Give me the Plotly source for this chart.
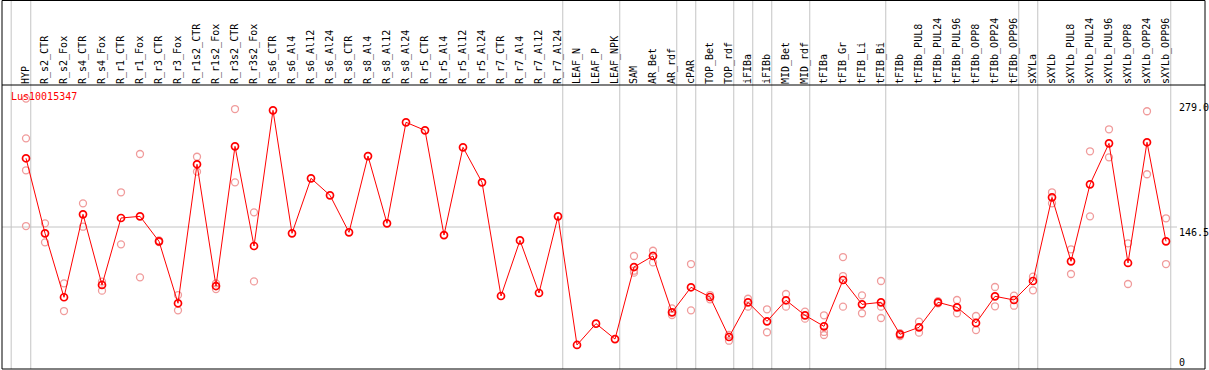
import plotly.graph_objects as go

categories = ["HYP", "R_s2_CTR", "R_s2_Fox", "R_s4_CTR", "R_s4_Fox", "R_r1_CTR", "R_r1_Fox",
              "R_r3_CTR", "R_r3_Fox", "R_r1s2_CTR", "R_r1s2_Fox", "R_r3s2_CTR", "R_r3s2_Fox",
              "R_s6_CTR", "R_s6_Al4", "R_s6_Al12", "R_s6_Al24", "R_s8_CTR", "R_s8_Al4",
              "R_s8_Al12", "R_s8_Al24", "R_r5_CTR", "R_r5_Al4", "R_r5_Al12", "R_r5_Al24",
              "R_r7_CTR", "R_r7_Al4", "R_r7_Al12", "R_r7_Al24", "LEAF_N", "LEAF_P", "LEAF_NPK",
              "SAM", "AR_Bet", "AR_rdf", "cPAR", "TOP_Bet", "TOP_rdf", "iFIBa", "iFIBb",
              "MID_Bet", "MID_rdf", "tFIBa", "tFIB_Gr", "tFIB_Li", "tFIB_Bi", "tFIBb",
              "tFIBb_PUL8", "tFIBb_PUL24", "tFIBb_PUL96", "tFIBb_OPP8", "tFIBb_OPP24",
              "tFIBb_OPP96", "sXYLa", "sXYLb", "sXYLb_PUL8", "sXYLb_PUL24", "sXYLb_PUL96",
              "sXYLb_OPP8", "sXYLb_OPP24", "sXYLb_OPP96"]

means = [217.4, 140.0, 74.0, 159.6, 86.7, 155.8, 157.5, 131.7, 67.8, 211.2, 85.6, 229.7, 126.9,
         266.9, 140.0, 196.7, 179.2, 141.0, 219.7, 150.3, 254.5, 246.2, 138.2, 228.7, 192.6,
         75.3, 132.7, 78.4, 157.5, 24.8, 46.8, 30.9,
         105.2, 116.6, 58.5, 84.3, 74.3, 33.0, 68.8, 49.2, 70.9, 55.4, 44.0, 91.8, 66.7, 68.8,
         35.8, 43.0, 68.8, 63.6, 47.5, 75.0, 71.2, 90.8, 177.1, 111.1, 190.5, 232.8, 109.4,
         233.9, 131.7]

replicates = [
    [279.0, 238.0, 205.0, 147.5], [150.3, 130.7], [88.4, 59.8], [170.9, 146.8], [90.1, 80.8],
    [182.3, 128.6], [221.8, 94.6], [132.7, 131.0], [76.3, 60.5], [219.0, 203.6], [88.4, 82.5],
    [268.2, 192.6], [161.6, 90.4],
    [], [], [], [], [], [], [], [], [], [], [], [], [], [], [], [], [], [], [],
    [116.6, 101.4, 99.4], [122.0, 117.0, 110.0], [62.6, 55.7], [108.3, 60.5], [76.3, 71.9],
    [35.1, 29.2], [72.5, 64.3], [61.6, 37.9], [77.4, 64.3], [59.1, 51.9], [55.4, 38.2, 35.1],
    [115.5, 95.9, 64.3], [76.0, 57.5], [90.8, 64.3, 52.6], [36.9, 34.0], [48.8, 37.5],
    [70.0, 67.7], [71.2, 57.4], [54.7, 40.2], [84.6, 64.7], [75.6, 65.3], [95.2, 81.2],
    [182.3, 170.9], [123.5, 98.0], [224.6, 157.5], [247.3, 218.4], [129.7, 87.7],
    [265.9, 200.9], [155.5, 108.3]]

group_sizes = [1, 28, 3, 3, 1, 2, 1, 1, 2, 4, 7, 1, 7]
title_text = "Lus10015347"
axis_labels = ["279.0", "146.5", "0"]

W, H = 1209, 370
ML, MR, MT, MB = 2, 4, 85, 1
plot_h = H - MT - MB
MONO = "DejaVu Sans Mono"

xi = list(range(len(categories)))
rx, ry = [], []
for i, reps in enumerate(replicates):
    for v in reps:
        rx.append(i)
        ry.append(v)

fig = go.Figure()
fig.add_trace(go.Scatter(x=rx, y=ry, mode="markers",
                         marker=dict(symbol="circle-open", size=7, color="rgb(240,155,155)",
                                     line=dict(width=1.3)),
                         hoverinfo="skip", showlegend=False))
fig.add_trace(go.Scatter(x=xi, y=means, mode="lines+markers",
                         line=dict(color="red", width=1),
                         marker=dict(symbol="circle-open", size=7, color="red",
                                     line=dict(width=1.7)),
                         showlegend=False))

top_paper = (H - MB - 0.5) / plot_h
shapes = []
bounds = [-0.78]
acc = -1
for g in group_sizes:
    acc += g
    bounds.append(acc + 0.25)
for b in bounds:
    shapes.append(dict(type="line", xref="x", yref="paper", x0=b, x1=b, y0=0, y1=top_paper,
                       line=dict(color="#c4c4c4", width=1), layer="below"))
shapes.append(dict(type="line", xref="paper", yref="y", x0=0, x1=(1177 - ML) / (W - ML - MR),
                   y0=146.5, y1=146.5, line=dict(color="#c4c4c4", width=1), layer="below"))
shapes.append(dict(type="rect", xref="paper", yref="paper", x0=0, x1=1, y0=0, y1=top_paper,
                   line=dict(color="black", width=1)))
shapes.append(dict(type="line", xref="paper", yref="paper", x0=0, x1=1, y0=1, y1=1,
                   line=dict(color="black", width=1)))

annotations = [dict(text=title_text, xref="paper", yref="paper", x=(9 - ML) / (W - ML - MR),
                    y=(H - MB - 96.7) / plot_h, xanchor="left", yanchor="middle",
                    showarrow=False, font=dict(family=MONO, size=10, color="red"))]
for lab, py in zip(axis_labels, [107.3, 232.3, 362.0]):
    annotations.append(dict(text=lab, xref="paper", yref="paper",
                            x=(1177 - ML) / (W - ML - MR), y=(H - MB - py) / plot_h,
                            xanchor="left", yanchor="middle", showarrow=False,
                            font=dict(family=MONO, size=10, color="black")))

x0 = (ML - 26) / 19
x1 = (W - MR - 26) / 19
fig.update_layout(
    width=W, height=H, margin=dict(l=ML, r=MR, t=MT, b=MB, autoexpand=False),
    paper_bgcolor="white", plot_bgcolor="white",
    xaxis=dict(range=[x0, x1], side="top", tickmode="array", tickvals=xi, ticktext=categories,
               tickangle=-90, tickfont=dict(family=MONO, size=10, color="black"),
               showgrid=False, zeroline=False, showline=False, ticks="", automargin=False,
               fixedrange=True),
    yaxis=dict(range=[0, 293], showticklabels=False, showgrid=False, zeroline=False,
               showline=False, ticks="", automargin=False, fixedrange=True),
    shapes=shapes, annotations=annotations,
)
fig.write_html("out.html", config={"displayModeBar": False},
               post_script="document.body.style.margin='0';document.body.style.overflow='hidden';")
